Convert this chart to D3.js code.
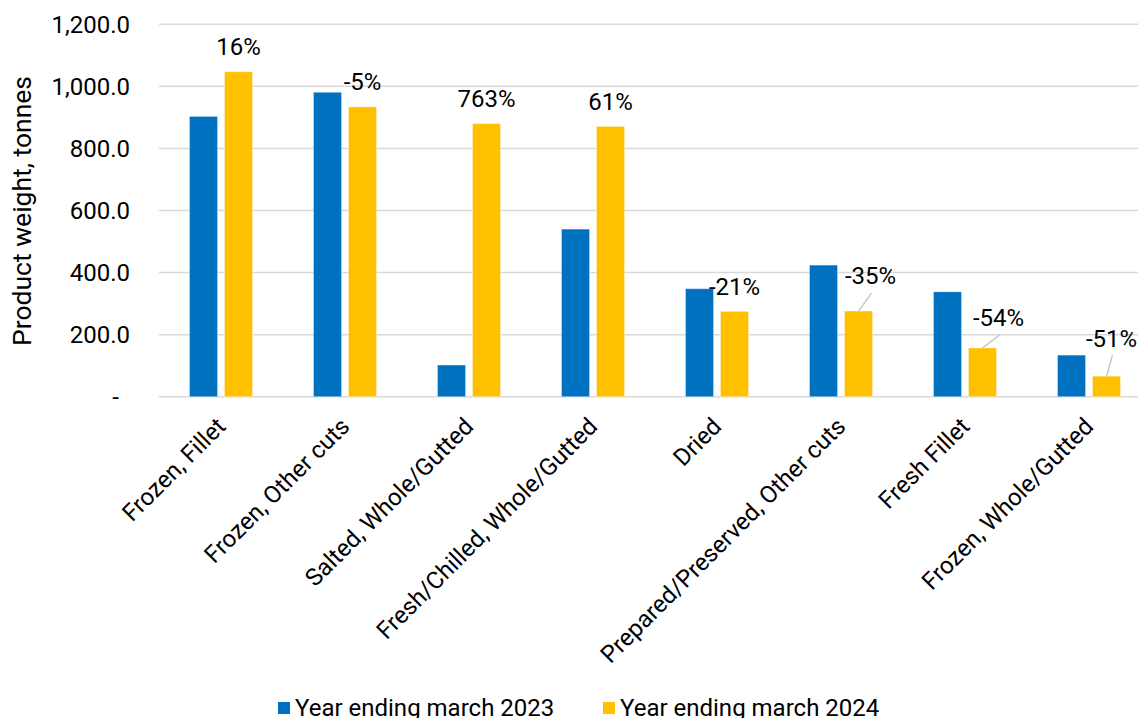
<!DOCTYPE html>
<html>
<head>
<meta charset="utf-8">
<script src="https://cdn.jsdelivr.net/npm/d3@7"></script>
<style>
  html, body { margin: 0; padding: 0; background: #fff; }
  svg { display: block; font-family: Roboto, "Liberation Sans", sans-serif; }
</style>
</head>
<body>
<svg id="chart" width="1138" height="718"></svg>
<script>
// Product categories along the x axis
const categories = [
  "Frozen, Fillet",
  "Frozen, Other cuts",
  "Salted, Whole/Gutted",
  "Fresh/Chilled, Whole/Gutted",
  "Dried",
  "Prepared/Preserved, Other cuts",
  "Fresh Fillet",
  "Frozen, Whole/Gutted"
];

// Product weight in tonnes
const values2023 = [903, 981, 102, 540, 348, 424, 338, 134];
const values2024 = [1047, 934, 880, 871, 275, 276, 157, 66];

// Year-on-year change shown above the 2024 bars
const changeLabels = ["16%", "-5%", "763%", "61%", "-21%", "-35%", "-54%", "-51%"];

const seriesNames = ["Year ending march 2023", "Year ending march 2024"];
const yTicks = [0, 200, 400, 600, 800, 1000, 1200];

// Layout
const colors = ["#0070C0", "#FFC000"];
const plot = { left: 159, right: 1151, top: 24.3, bottom: 396.7 };
const fontSize = 24;
// label nudges (px) for crowded labels, and whether to draw a leader line
const labelNudge = [
  [0, 0, false], [0, 0, false], [0, 0, false], [0, 0, false],
  [0, 0, false], [12, -10, true], [16, -5, true], [5, -13, true]
];

const svg = d3.select("#chart");

const x = d3.scaleBand().domain(categories).range([plot.left, plot.right]).padding(0);
const y = d3.scaleLinear().domain([0, 1200]).range([plot.bottom, plot.top]);

const barW = 28, barGap = 7;
const groupW = barW * 2 + barGap;
const barX = (c, s) => x(c) + x.bandwidth() / 2 - groupW / 2 + s * (barW + barGap);

// Gridlines
svg.append("g")
  .selectAll("line")
  .data(yTicks)
  .join("line")
  .attr("x1", plot.left).attr("x2", plot.right)
  .attr("y1", d => y(d)).attr("y2", d => y(d))
  .attr("stroke", "#d9d9d9")
  .attr("stroke-width", 1.5);

// Y axis tick labels
const fmt = d3.format(",.1f");
svg.append("g")
  .selectAll("text")
  .data(yTicks)
  .join("text")
  .attr("x", d => d === 0 ? 119 : 130)
  .attr("y", d => y(d))
  .attr("dy", "0.35em")
  .attr("text-anchor", "end")
  .attr("font-size", fontSize)
  .attr("fill", "#000")
  .text(d => d === 0 ? "-" : fmt(d));

// Y axis title
svg.append("text")
  .attr("transform", "translate(31, 211) rotate(-90)")
  .attr("text-anchor", "middle")
  .attr("font-size", 26.5)
  .attr("fill", "#000")
  .text("Product weight, tonnes");

// Bars
const seriesValues = [values2023, values2024];
seriesValues.forEach((vals, s) => {
  svg.append("g")
    .selectAll("rect")
    .data(categories)
    .join("rect")
    .attr("x", (c) => barX(c, s))
    .attr("y", (c, i) => y(vals[i]))
    .attr("width", barW)
    .attr("height", (c, i) => y(0) - y(vals[i]))
    .attr("fill", colors[s])
    .attr("stroke", "rgba(255,255,255,0.35)")
    .attr("stroke-width", 1);
});

// Change labels above the 2024 bars, with leader lines where nudged
const lbl = svg.append("g");
categories.forEach((c, i) => {
  const bx = barX(c, 1) + barW / 2;
  const by = y(values2024[i]);
  const [dx, dy, leader] = labelNudge[i];
  const lx = bx + dx;
  const ly = by - 25 + dy;
  if (leader) {
    lbl.append("line")
      .attr("x1", lx + 1).attr("y1", ly + 17)
      .attr("x2", bx).attr("y2", by)
      .attr("stroke", "#bfbfbf")
      .attr("stroke-width", 1.2);
  }
  lbl.append("text")
    .attr("x", lx)
    .attr("y", ly)
    .attr("dy", "0.35em")
    .attr("text-anchor", "middle")
    .attr("font-size", fontSize)
    .attr("fill", "#000")
    .text(changeLabels[i]);
});

// X axis category labels, rotated
svg.append("g")
  .selectAll("text")
  .data(categories)
  .join("text")
  .attr("transform", c => `translate(${x(c) + x.bandwidth() / 2}, 422) rotate(-45)`)
  .attr("text-anchor", "end")
  .attr("dy", "0.35em")
  .attr("font-size", fontSize)
  .attr("fill", "#000")
  .text(c => c);

// Legend
const legendX = [278, 603];
const leg = svg.append("g");
seriesNames.forEach((name, s) => {
  leg.append("rect")
    .attr("x", legendX[s]).attr("y", 702)
    .attr("width", 12).attr("height", 12)
    .attr("fill", colors[s]);
  leg.append("text")
    .attr("x", legendX[s] + 17)
    .attr("y", 716)
    .attr("font-size", fontSize)
    .attr("fill", "#000")
    .text(name);
});
</script>
</body>
</html>
